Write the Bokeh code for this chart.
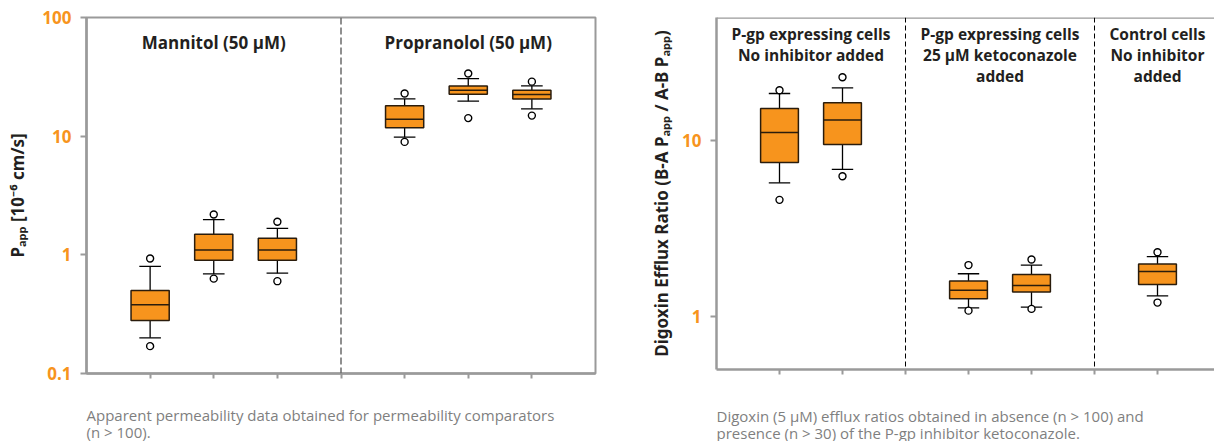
import numpy as np
from bokeh.plotting import figure
from bokeh.layouts import row
from bokeh.models import (Range1d, FixedTicker, CustomJSTickFormatter, Span, Title, ColumnDataSource)
from bokeh.embed import file_html
from bokeh.resources import INLINE
from bokeh.core.properties import value

# ---------------- data: permeability comparators (left) ----------------
perm_x = [1, 2, 3, 5, 6, 7]
perm_wlo = [0.20, 0.69, 0.70, 9.8, 19.7, 17.0]
perm_q1 = [0.28, 0.90, 0.90, 11.8, 22.6, 20.6]
perm_med = [0.38, 1.10, 1.10, 13.9, 24.4, 22.4]
perm_q3 = [0.50, 1.49, 1.38, 18.0, 26.5, 24.4]
perm_whi = [0.80, 1.98, 1.67, 20.6, 30.6, 26.5]
perm_out_x = [1, 1, 2, 2, 3, 3, 5, 5, 6, 6, 7, 7]
perm_out_y = [0.93, 0.17, 2.19, 0.63, 1.90, 0.60, 22.9, 8.95, 33.7, 14.2, 28.8, 14.9]
perm_groups = ["Mannitol (50 µM)", "Propranolol (50 µM)"]
perm_group_x = [2, 6]
perm_dividers = [4]
perm_yticks = [0.1, 1, 10, 100]
perm_caption = "Apparent permeability data obtained for permeability comparators\n(n > 100)."

# ---------------- data: digoxin efflux ratio (right) ----------------
dig_x = [1, 2, 4, 5, 7]
dig_wlo = [5.75, 6.85, 1.12, 1.13, 1.31]
dig_q1 = [7.5, 9.5, 1.26, 1.38, 1.52]
dig_med = [11.1, 13.1, 1.41, 1.50, 1.80]
dig_q3 = [15.2, 16.4, 1.59, 1.73, 1.99]
dig_whi = [18.5, 19.9, 1.75, 1.96, 2.19]
dig_out_x = [1, 1, 2, 2, 4, 4, 5, 5, 7, 7]
dig_out_y = [19.3, 4.6, 22.9, 6.26, 1.96, 1.08, 2.11, 1.105, 2.32, 1.20]
dig_groups = ["P-gp expressing cells\nNo inhibitor added",
              "P-gp expressing cells\n25 µM ketoconazole\nadded",
              "Control cells\nNo inhibitor\nadded"]
dig_group_x = [1.5, 4.5, 7]
dig_dividers = [3, 6]
dig_yticks = [1, 10]
dig_caption = ("Digoxin (5 µM) efflux ratios obtained in absence (n > 100) and\n"
               "presence (n > 30) of the P-gp inhibitor ketoconazole.")

ORANGE = "#F7941D"
FRAME = "#9a9a9a"
FONT = "Open Sans"
LABEL_FONT = "Noto Sans"
CAPTION = "#7f7f7f"
BOXW = 0.6
CAPW = 0.34


def make_fig(frame_w, frame_h, xr, yr, bl, bt, br):
    p = figure(frame_width=frame_w, frame_height=frame_h,
               x_range=Range1d(*xr), y_range=Range1d(*yr), y_axis_type="log",
               output_backend="svg", toolbar_location=None,
               min_border_left=bl, min_border_top=bt, min_border_right=br,
               min_border_bottom=0, background_fill_color="white",
               border_fill_color="white")
    p.xgrid.visible = False
    p.ygrid.visible = False
    return p


def style_axes(p, xticks, yticks, ylabel, label_standoff, caption_gap):
    xa = p.xaxis[0]
    # visible ticks are drawn as minor ticks; the invisible major ticks
    # reserve the gap between the axis and the caption below
    xa.ticker = FixedTicker(ticks=xticks, minor_ticks=xticks)
    xa.formatter = CustomJSTickFormatter(code="return '';")
    xa.major_label_standoff = 0
    xa.axis_line_color = FRAME
    xa.axis_line_width = 2.5
    xa.major_tick_line_color = None
    xa.major_tick_out = caption_gap
    xa.major_tick_in = 0
    xa.minor_tick_line_color = FRAME
    xa.minor_tick_line_width = 2
    xa.minor_tick_out = 5
    xa.minor_tick_in = 0
    ya = p.yaxis[0]
    ya.ticker = FixedTicker(ticks=yticks, minor_ticks=[])
    ya.formatter = CustomJSTickFormatter(code="return String(Math.round(tick*10)/10);")
    ya.major_label_text_color = ORANGE
    ya.major_label_text_font = FONT
    ya.major_label_text_font_style = "bold"
    ya.major_label_text_font_size = "17px"
    ya.major_label_standoff = 9
    ya.axis_line_color = FRAME
    ya.axis_line_width = 2.5
    ya.major_tick_line_color = FRAME
    ya.major_tick_line_width = 2
    ya.major_tick_out = 6
    ya.major_tick_in = 0
    ya.minor_tick_line_color = None
    ya.axis_label = ylabel
    ya.axis_label_text_font = LABEL_FONT
    ya.axis_label_text_font_style = "bold"
    ya.axis_label_text_font_size = "17px"
    ya.axis_label_text_color = "#231f20"
    ya.axis_label_standoff = label_standoff


def draw_boxes(p, xs, wlo, q1, med, q3, whi, ox, oy):
    xs = np.array(xs, dtype=float)
    src = ColumnDataSource(dict(x=xs, wlo=wlo, q1=q1, med=med, q3=q3, whi=whi,
                                xl=xs - BOXW / 2, xr=xs + BOXW / 2,
                                cl=xs - CAPW / 2, cr=xs + CAPW / 2))
    p.segment(x0="x", x1="x", y0="q3", y1="whi", source=src, line_color="black", line_width=1.3)
    p.segment(x0="x", x1="x", y0="wlo", y1="q1", source=src, line_color="black", line_width=1.3)
    p.segment(x0="cl", x1="cr", y0="whi", y1="whi", source=src, line_color="black", line_width=1.3)
    p.segment(x0="cl", x1="cr", y0="wlo", y1="wlo", source=src, line_color="black", line_width=1.3)
    p.vbar(x="x", width=BOXW, bottom="q1", top="q3", source=src,
           fill_color=ORANGE, line_color="#2a1c0c", line_width=1.5)
    p.segment(x0="xl", x1="xr", y0="med", y1="med", source=src, line_color="#2a1c0c", line_width=1.5)
    p.scatter(x=ox, y=oy, marker="circle", size=7, fill_color="white",
              line_color="black", line_width=1.4)


def add_caption(p, text):
    t = Title(text=text, align="left", text_font=FONT, text_font_style="normal",
              text_font_size="15px", text_color=CAPTION, standoff=0,
              text_line_height=0.85)
    p.add_layout(t, "below")


# ---------------- left figure ----------------
L_YR = (0.1, 100)
L_FH = 356
p1 = make_fig(509, L_FH, (0, 8), L_YR, 86, 17, 45)
p1.outline_line_color = FRAME
p1.outline_line_width = 2
style_axes(p1, list(range(1, 8)), perm_yticks, "Pₐₚₚ [10⁻⁶ cm/s]", 10, 29)
for d in perm_dividers:
    p1.add_layout(Span(location=d, dimension="height", line_color="#6a6a6a",
                       line_width=1.5, line_dash="7 3"))
draw_boxes(p1, perm_x, perm_wlo, perm_q1, perm_med, perm_q3, perm_whi, perm_out_x, perm_out_y)
ppd = L_FH / np.log10(L_YR[1] / L_YR[0])
p1.text(x=perm_group_x, y=[L_YR[1] * 10 ** (-13 / ppd)] * len(perm_group_x), text=perm_groups,
        text_font=value(FONT), text_font_style="bold", text_font_size="17px",
        text_color="#231f20", text_align="center", text_baseline="top")
add_caption(p1, perm_caption)

# ---------------- right figure ----------------
R_YR = (0.5, 50)
R_FH = 352
R_FW = 498
R_PPU = 63.0
p2 = make_fig(R_FW, R_FH, (0, R_FW / R_PPU), R_YR, 76, 16, 0)
p2.outline_line_color = None
style_axes(p2, list(range(1, 8)), dig_yticks,
           "Digoxin Efflux Ratio (B-A Pₐₚₚ / A-B Pₐₚₚ)", 6, 34)
p2.add_layout(Span(location=R_YR[1], dimension="width", line_color=FRAME, line_width=2.5))
for d in dig_dividers:
    p2.add_layout(Span(location=d, dimension="height", line_color="black",
                       line_width=1, line_dash="5 3"))
draw_boxes(p2, dig_x, dig_wlo, dig_q1, dig_med, dig_q3, dig_whi, dig_out_x, dig_out_y)
ppd2 = R_FH / np.log10(R_YR[1] / R_YR[0])
p2.text(x=dig_group_x, y=[R_YR[1] * 10 ** (-5 / ppd2)] * len(dig_group_x), text=dig_groups,
        text_font=value(FONT), text_font_style="bold", text_font_size="15.5px",
        text_color="#231f20", text_align="center", text_baseline="top", text_line_height=0.97)
add_caption(p2, dig_caption)

layout = row(p1, p2)
open("out.html", "w").write(file_html(layout, INLINE))
